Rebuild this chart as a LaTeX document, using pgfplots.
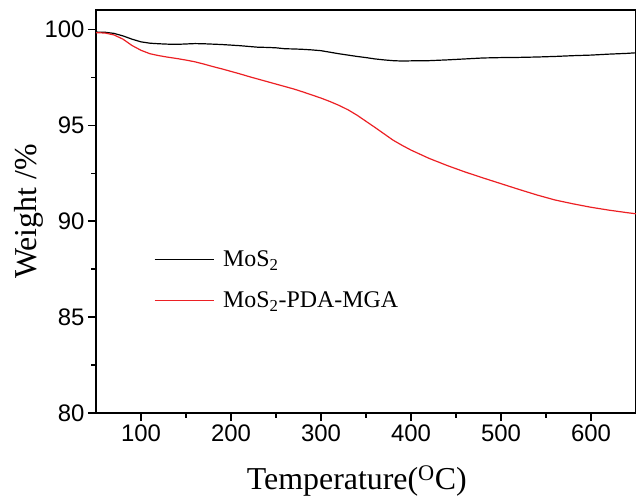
\documentclass[border=0pt]{standalone}
\usepackage{pgfplots}
\pgfplotsset{compat=1.18}
\usepackage{fontspec}
\setmainfont{Liberation Serif}
\newfontfamily\arialfont{Liberation Sans}
\definecolor{myred}{RGB}{236,32,36}
\begin{document}
\begin{tikzpicture}
\begin{axis}[
  scale only axis,
  width=540bp, height=403bp,
  xmin=50, xmax=650, ymin=80, ymax=101,
  xtick={100,200,...,600},
  ytick={80,85,...,100},
  minor x tick num=1, minor y tick num=1,
  tick align=outside, tick pos=left,
  major tick length=8bp, minor tick length=4.5bp,
  axis line style={line width=1.3bp},
  every tick/.style={line width=1.2bp, black},
  /pgf/number format/assume math mode=true,
  ticklabel style={font=\arialfont\fontsize{24}{28}\selectfont},
  xlabel={Temperature(\textsuperscript{O}C)},
  ylabel={Weight /\%},
  label style={font=\fontsize{32}{38}\selectfont},
  xlabel style={at={(axis description cs:0.483,-0.191)}, anchor=base},
  ylabel style={at={(axis description cs:-0.1093,0.5)}, anchor=base},
  legend style={draw=none, fill=none, at={(axis description cs:0.107,0.408)}, anchor=north west,
    font=\fontsize{24}{28}\selectfont, row sep=20bp, inner sep=0pt,
    /tikz/every odd column/.append style={column sep=7bp}},
  legend cell align=left,
  legend image code/.code={\draw[#1] (0bp,0bp) -- (59bp,0bp);},
]
\addplot[black, line width=1.2bp] coordinates {
(50,99.85)(60,99.84)(70,99.78)(80,99.65)(90,99.48)(100,99.34)(110,99.27)(120,99.24)(130,99.22)(140,99.21)
(150,99.23)(160,99.25)(170,99.24)(180,99.22)(190,99.2)(200,99.17)(210,99.14)(220,99.1)(230,99.06)(240,99.05)
(250,99.03)(260,98.98)(270,98.97)(280,98.95)(290,98.92)(300,98.88)(310,98.8)(320,98.72)(330,98.65)(340,98.58)
(350,98.52)(360,98.45)(370,98.4)(380,98.36)(390,98.34)(400,98.35)(420,98.36)(440,98.4)(460,98.45)(480,98.5)
(500,98.52)(520,98.53)(540,98.55)(560,98.58)(580,98.62)(600,98.65)(620,98.7)(640,98.74)(650,98.77)
};
\addlegendentry{MoS\textsubscript{2}}
\addplot[myred, line width=1.2bp] coordinates {
(50,99.82)(60,99.8)(70,99.7)(80,99.48)(90,99.15)(100,98.9)(110,98.72)(120,98.62)(130,98.54)(140,98.47)
(150,98.39)(160,98.3)(170,98.18)(180,98.05)(190,97.93)(200,97.8)(210,97.67)(220,97.53)(230,97.4)(240,97.27)
(250,97.14)(260,97.01)(270,96.88)(280,96.73)(290,96.57)(300,96.41)(310,96.23)(320,96.03)(330,95.8)(340,95.52)
(350,95.2)(360,94.88)(370,94.55)(380,94.22)(390,93.95)(400,93.7)(420,93.27)(440,92.9)(460,92.56)(480,92.25)
(500,91.95)(520,91.65)(540,91.36)(560,91.1)(580,90.9)(600,90.72)(620,90.57)(640,90.44)(650,90.38)
};
\addlegendentry{MoS\textsubscript{2}-PDA-MGA}
\end{axis}
\pgfresetboundingbox
\useasboundingbox (-96bp,-87bp) rectangle (540bp,413bp);
\end{tikzpicture}
\end{document}
